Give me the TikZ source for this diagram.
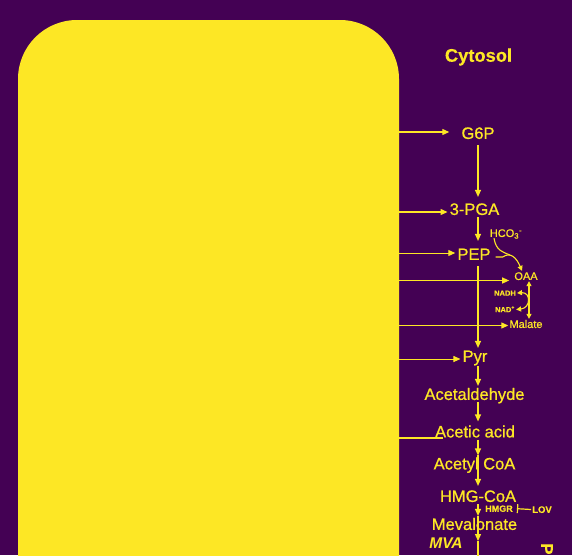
\documentclass[tikz,border=0pt]{standalone}
\usepackage{fontspec}
\setmainfont{Liberation Sans}[FakeBold=0.7]
\newfontfamily\bfam{Liberation Sans Bold}[FakeBold=0.3]
\newfontfamily\bifam{Liberation Sans Bold Italic}
\usetikzlibrary{arrows.meta}
\definecolor{bgp}{HTML}{440154}
\definecolor{yel}{HTML}{FDE725}
\begin{document}
\begin{tikzpicture}[x=1pt,y=-1pt,
  lbl/.style={text=yel, font=\fontsize{16.5}{18}\selectfont, inner sep=2pt, text height=11.8pt, text depth=0pt},
  sm/.style={text=yel, font=\fontsize{11}{12}\selectfont, inner sep=1pt, text height=7.9pt, text depth=0pt},
  tiny/.style={text=yel, font=\bfam\fontsize{7.5}{8}\selectfont, inner sep=1pt, text height=5.4pt, text depth=0pt},
  arr/.style={draw=yel, line width=1.2pt, -{Triangle[length=7pt,width=6pt]}},
  sarr/.style={draw=yel, line width=1.1pt, -{Triangle[length=5pt,width=5pt]}},
  ln/.style={draw=yel, line width=1.2pt}]
\fill[bgp] (0,0) rectangle (572,555);
\useasboundingbox (0,0) rectangle (572,555);
\clip (0,0) rectangle (572,555);
\fill[yel, rounded corners=59pt] (18,20) rectangle (399,650);

\node[text=yel, font=\bfam\fontsize{18.3}{21}\selectfont, inner sep=0pt] (cyt) at (478.5,57) {Cytosol};

% main nodes
\node[lbl] (G6P) at (478,133) {G6P};
\node[lbl] (PGA) at (474.5,209) {3-PGA};
\node[lbl] (PEP) at (474,254) {PEP};
\node[lbl] (Pyr) at (475,356) {Pyr};
\node[lbl] (Ald) at (474.5,394) {Acetaldehyde};
\node[lbl] (Aac) at (475,431.5) {Acetic acid};
\node[lbl] (ACoA) at (474.5,463.5) {Acetyl CoA};
\node[lbl] (HMG) at (478,496) {HMG-CoA};
\node[lbl] (Mev) at (474.5,524) {Mevalonate};
\node[text=yel, font=\bifam\fontsize{15.5}{17}\selectfont, inner sep=1pt] (MVA) at (446,543) {MVA};
\node[text=yel, font=\bfam\fontsize{17}{18}\selectfont, rotate=-90, anchor=north west, inner sep=0pt] (P) at (553,543) {P};

% small nodes
\node[sm] (HCO) at (506,233) {HCO\textsubscript{3}\textsuperscript{-}};
\node[sm] (OAA) at (526,276) {OAA};
\node[sm] (Mal) at (526,324) {Malate};
\node[tiny] (NADH) at (505,293) {NADH};
\node[tiny] (NAD) at (505,309.5) {NAD\textsuperscript{+}};
\node[tiny, font=\bfam\fontsize{9}{10}\selectfont, text height=6.5pt] (HMGR) at (499,508.5) {HMGR};
\node[tiny, font=\bfam\fontsize{9.5}{10}\selectfont, text height=6.8pt] (LOV) at (542,509.5) {LOV};

% box edge coordinates
\coordinate (e1) at (399,132);
\coordinate (e2) at (399,212);
\coordinate (e3) at (399,253);
\coordinate (e4) at (399,280.5);
\coordinate (e5) at (399,325.5);
\coordinate (e6) at (399,359);
\coordinate (e7) at (399,438);
\coordinate (spine) at (478,0);
\coordinate (mvaend) at (478,541);
\coordinate (bottom) at (478,560);

% horizontal inputs
\draw[arr, shorten >=10pt] (e1) -- (e1 -| G6P.west);
\draw[arr] (e2) -- (e2 -| PGA.west);
\draw[arr, line width=1pt] (e3) -- (e3 -| PEP.west);
\draw[arr, shorten >=4pt] (e4) -- (e4 -| OAA.west);
\draw[arr] (e5) -- (e5 -| Mal.west);
\draw[arr, line width=1pt] (e6) -- (e6 -| Pyr.west);
\draw[ln, shorten >=-10pt] (e7) -- (e7 -| Aac.west);

% spine arrows
\draw[arr, shorten <=4pt, shorten >=4pt] (spine |- G6P.south) -- (spine |- PGA.north);
\draw[arr, shorten >=5pt] (spine |- PGA.south) -- (spine |- PEP.north);
\draw[arr, shorten <=4pt] (spine |- PEP.south) -- (spine |- Pyr.north);
\draw[arr, shorten <=2pt] (spine |- Pyr.south) -- (spine |- Ald.north);
\draw[arr, shorten >=2pt] (spine |- Ald.south) -- (spine |- Aac.north);
\draw[arr] (spine |- Aac.south) -- (spine |- ACoA.north);
\draw[arr, shorten >=2pt] (spine |- ACoA.north) -- (spine |- HMG.north);
\draw[arr] (spine |- HMG.south) -- (spine |- Mev.north);
\draw[arr] (spine |- Mev.north) -- (mvaend);
\draw[ln] (mvaend) -- (bottom);

% PEP carboxylation
\draw[sarr] ([xshift=3pt,yshift=-3pt]PEP.east) -- ++(7,0) .. controls (511,251) and (517,259) .. ([xshift=-4pt]OAA.north);
\draw[ln, line width=1.1pt] ([xshift=-12pt]HCO.south) .. controls (496,251) and (503,252) .. (510,255);

% OAA <-> Malate
\draw[draw=yel, line width=1.1pt, {Triangle[length=5pt,width=5pt]}-{Triangle[length=5pt,width=5pt]}] ([xshift=3pt]OAA.south) -- ([xshift=3pt]Mal.north);
\draw[draw=yel, line width=1.1pt, {Triangle[length=5pt,width=5pt]}-{Triangle[length=5pt,width=5pt]}] (NADH.east) .. controls (531,292) and (531,308) .. (NAD.east);

% inhibition
\draw[draw=yel, line width=1.2pt, -{Bar[width=9pt]}, shorten >=3pt] (LOV.west) -- (HMGR.east);
\end{tikzpicture}
\end{document}
